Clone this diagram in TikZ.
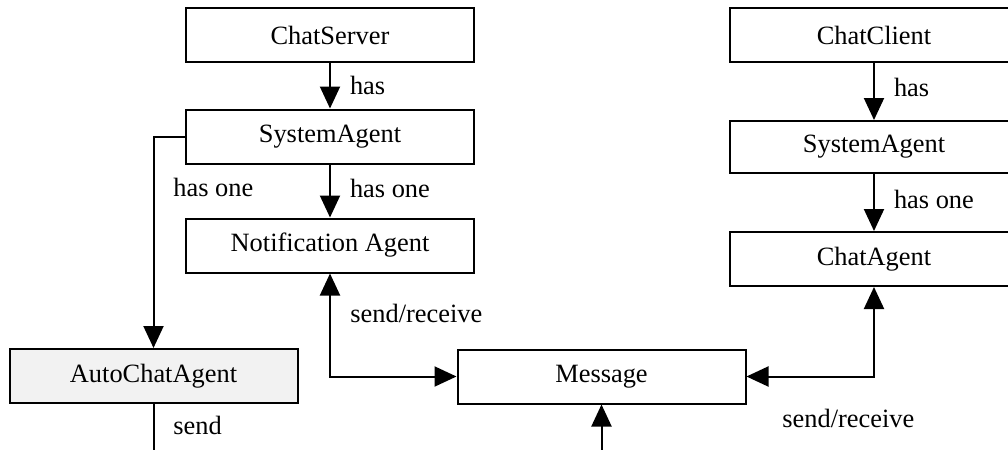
\documentclass[tikz,border=0pt]{standalone}
\usepackage{fontspec}
\setmainfont{Liberation Serif}
\usetikzlibrary{arrows.meta}
\definecolor{boxgray}{HTML}{F2F2F2}
\begin{document}
\begin{tikzpicture}[x=0.5pt,y=-0.5pt,
  font=\fontsize{13.2pt}{15pt}\selectfont,
  box/.style={draw, line width=1pt, minimum width=144pt, minimum height=27pt, inner sep=0pt, fill=white},
  conn/.style={line width=1pt, -{Triangle[length=11pt,width=10pt]}},
  both/.style={line width=1pt, {Triangle[length=11pt,width=10pt]}-{Triangle[length=11pt,width=10pt]}},
  plain/.style={line width=1pt},
  lbl/.style={inner sep=0pt, anchor=west},
  elbl/.style={inner sep=0pt, anchor=west, xshift=9.5pt}]
\useasboundingbox (0,0) rectangle (1008,450);
\clip (0,0) rectangle (1008,450);
% nodes
\node[box] (cs) at (330,35) {ChatServer};
\node[box] (sa1) at (330,136.5) {SystemAgent};
\node[box] (na) at (330,245.5) {Notification Agent};
\node[box] (cc) at (874,35) {ChatClient};
\node[box, minimum height=26pt] (sa2) at (874,147) {SystemAgent};
\node[box] (ca) at (874,259) {ChatAgent};
\node[box, fill=boxgray] (aca) at (153.5,376) {AutoChatAgent};
\node[box] (msg) at (601.5,376.5) {Message};
\coordinate (b1) at (153.5,450);
\coordinate (b2) at (601.5,450);
% connectors
\draw[conn] (cs) -- (sa1) node[midway, elbl] {has};
\draw[conn] (sa1) -- (na) node[midway, elbl, yshift=1.5pt] {has one};
\draw[conn] (cc) -- (sa2) node[midway, elbl, yshift=2pt] {has};
\draw[conn] (sa2) -- (ca) node[midway, elbl, yshift=1.5pt] {has one};
\draw[conn] (sa1.west) -| (aca);
\draw[both] (na) |- (msg);
\draw[both] (ca) |- (msg);
\draw[plain] (aca) -- (b1);
\draw[conn] (b2) -- (msg);
% free labels
\node[lbl] (l1) at (173,187) {has one};
\node[lbl] (l2) at (350,313) {send/receive};
\node[lbl] (l3) at (782,418) {send/receive};
\node[lbl] (l4) at (173,425) {send};
\end{tikzpicture}
\end{document}
